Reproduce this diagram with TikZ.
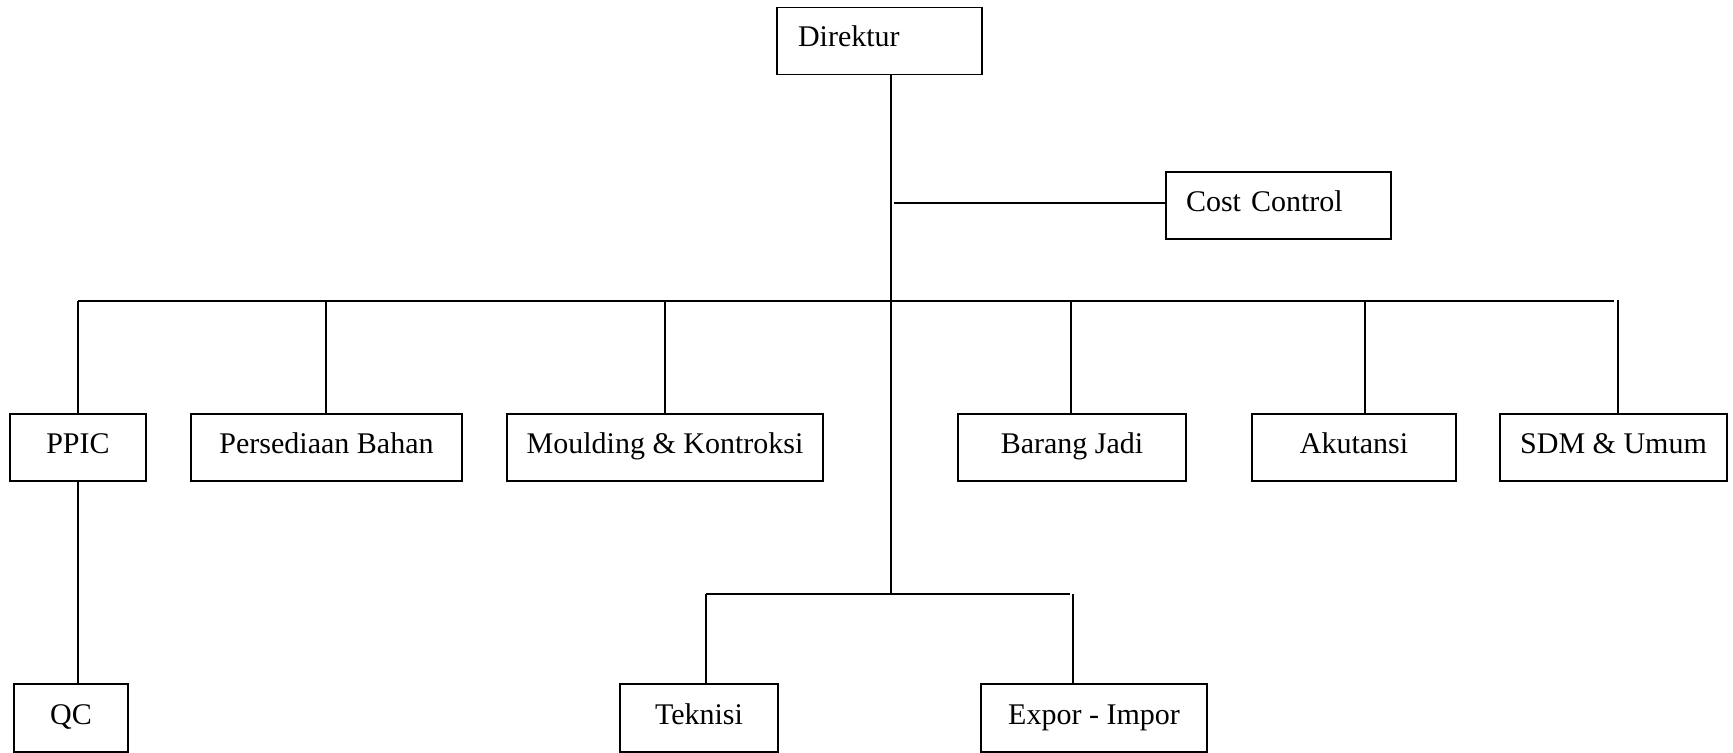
\documentclass[tikz,border=0pt]{standalone}
\usepackage{fontspec}
\setmainfont{Liberation Serif}
\begin{document}
\begin{tikzpicture}[x=0.5pt,y=-0.5pt,
  box/.style={draw, line width=0.7pt, rectangle, inner sep=0pt,
    font=\fontsize{15}{18}\selectfont, text height=10pt, text depth=4pt,
    minimum height=33.75pt},
  lbox/.style={box, align=left},
  conn/.style={draw, line width=0.7pt}]
\useasboundingbox (0,0) rectangle (1733,753);
% boxes
\node[lbox, inner xsep=10.5pt, text width=81.5pt] (dir) at (879.5,41) {Direktur};
\node[lbox, inner xsep=10pt, text width=92.5pt, minimum height=33.5pt] (cc) at (1278.5,205.5) {Cost Control};
\node[box, minimum width=68pt, minimum height=33.5pt] (ppic) at (78,447.5) {PPIC};
\node[box, minimum width=135.5pt, minimum height=33.5pt] (pb) at (326.5,447.5) {Persediaan Bahan};
\node[box, minimum width=158pt, minimum height=33.5pt] (mk) at (665,447.5) {Moulding \& Kontroksi};
\node[box, minimum width=114pt, minimum height=33.5pt] (bj) at (1072,447.5) {Barang Jadi};
\node[box, minimum width=102pt, minimum height=33.5pt] (ak) at (1354,447.5) {Akutansi};
\node[box, minimum width=113.5pt, minimum height=33.5pt] (sdm) at (1613.5,447.5) {SDM \& Umum};
\node[box, minimum width=57pt, minimum height=34pt] (qc) at (71,718) {QC};
\node[box, minimum width=79pt, minimum height=34pt] (tek) at (699,718) {Teknisi};
\node[box, minimum width=113pt, minimum height=34pt] (exp) at (1094,718) {Expor - Impor};
% junction coordinates
\coordinate (tr) at (891,594);
\coordinate (ccj) at (894,203);
\coordinate (busL) at (78,301);
\coordinate (busR) at (1614,301);
\coordinate (dpb) at (326,301);
\coordinate (dmk) at (665,301);
\coordinate (dbj) at (1071,301);
\coordinate (dak) at (1365,301);
\coordinate (dsdm) at (1618,300);
\coordinate (sbL) at (706,594);
\coordinate (sbR) at (1070,594);
\coordinate (dex) at (1073,594);
% connectors
\draw[conn] (dir.south -| tr) -- (tr);
\draw[conn] (ccj) -- (cc.west |- ccj);
\draw[conn] (busL) -- (busR);
\draw[conn] (busL) -- (ppic.north);
\draw[conn] (dpb) -- (dpb |- pb.north);
\draw[conn] (dmk) -- (dmk |- mk.north);
\draw[conn] (dbj) -- (dbj |- bj.north);
\draw[conn] (dak) -- (dak |- ak.north);
\draw[conn] (dsdm) -- (dsdm |- sdm.north);
\draw[conn] (ppic.south) -- (ppic.south |- qc.north);
\draw[conn] (sbL) -- (sbR);
\draw[conn] (sbL) -- (sbL |- tek.north);
\draw[conn] (dex) -- (dex |- exp.north);
\end{tikzpicture}
\end{document}
